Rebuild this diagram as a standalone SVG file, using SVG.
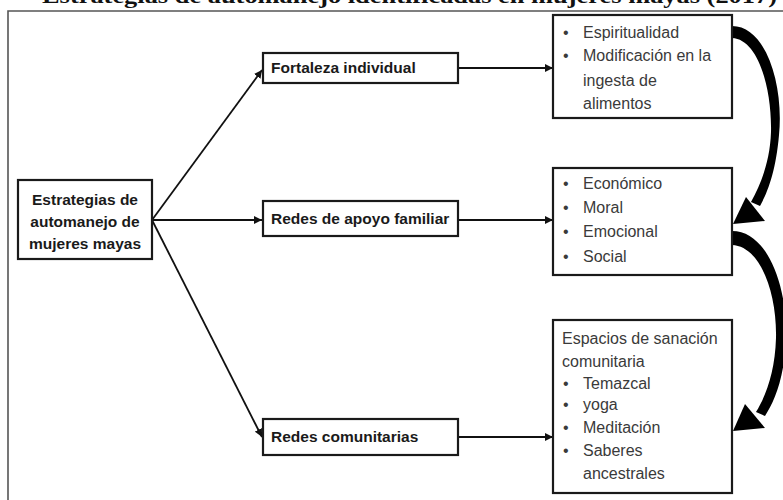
<svg xmlns="http://www.w3.org/2000/svg" width="783" height="500" viewBox="0 0 783 500">
<defs>
<marker id="ah" viewBox="0 0 10 10" refX="10" refY="5" markerWidth="8" markerHeight="8" markerUnits="userSpaceOnUse" orient="auto">
<path d="M0,0 L10,5 L0,10 Z" fill="#111"/>
</marker>
<style>
.box{fill:#fff;stroke:#1a1a1a;stroke-width:2.2}
.lbl{font-family:"Liberation Sans",Arial,sans-serif;font-weight:bold;font-size:15.5px;fill:#1a1a1a}
.itm{font-family:"Liberation Sans",Arial,sans-serif;font-size:16px;fill:#3a3a3a}
.con{stroke:#111;stroke-width:1.8;fill:none;marker-end:url(#ah)}
.big{fill:#000}
</style>
</defs>
<rect x="0" y="0" width="783" height="500" fill="#fff"/>
<text x="42" y="3" textLength="735" lengthAdjust="spacingAndGlyphs" font-family="'Liberation Serif',serif" font-weight="bold" font-size="22" fill="#111">Estrategias de automanejo identificadas en mujeres mayas (2017)</text>
<path d="M8,500 L8,11 L783,11" fill="none" stroke="#555" stroke-width="1.6"/>

<g id="connectors">
<line class="con" x1="152" y1="220" x2="262" y2="70"/>
<line class="con" x1="152" y1="220" x2="262" y2="220"/>
<line class="con" x1="152" y1="220" x2="262" y2="437"/>
<line class="con" x1="458" y1="68" x2="553" y2="68"/>
<line class="con" x1="458" y1="220" x2="553" y2="220"/>
<line class="con" x1="458" y1="437" x2="553" y2="437"/>
<path class="big" d="M732,26 C766,26 784,85 779,135 C776,170 768,192 760,206 L751,202 C762,182 770,160 771,132 C772,88 758,39 732,38 Z"/>
<path class="big" d="M733,224 L746,197 L765,221 Z"/>
<path class="big" d="M732,231 C769,231 788,290 786,340 C784,380 774,402 765,416 L756,412 C767,394 775,370 776,338 C777,292 760,246 732,245 Z"/>
<path class="big" d="M733,431 L745,404 L765,428 Z"/>
</g>

<g id="root">
<rect class="box" x="18" y="180" width="134" height="79"/>
<text class="lbl" x="85" y="205" text-anchor="middle">Estrategias de</text>
<text class="lbl" x="85" y="227" text-anchor="middle">automanejo de</text>
<text class="lbl" x="85" y="249" text-anchor="middle">mujeres mayas</text>
</g>

<g id="fortaleza">
<rect class="box" x="263" y="53" width="195" height="30"/>
<text class="lbl" x="271" y="73">Fortaleza individual</text>
</g>

<g id="apoyo">
<rect class="box" x="263" y="201" width="195" height="35"/>
<text class="lbl" x="271" y="224">Redes de apoyo familiar</text>
</g>

<g id="comunitarias">
<rect class="box" x="263" y="419" width="195" height="36"/>
<text class="lbl" x="271" y="442">Redes comunitarias</text>
</g>

<g id="box-fortaleza">
<rect class="box" x="553" y="15" width="179" height="103"/>
<text class="itm" x="563" y="38">•</text><text class="itm" x="583" y="38">Espiritualidad</text>
<text class="itm" x="563" y="61">•</text><text class="itm" x="583" y="61">Modificación en la</text>
<text class="itm" x="583" y="86">ingesta de</text>
<text class="itm" x="583" y="109">alimentos</text>
</g>

<g id="box-apoyo">
<rect class="box" x="553" y="168" width="179" height="107"/>
<text class="itm" x="563" y="189">•</text><text class="itm" x="583" y="189">Económico</text>
<text class="itm" x="563" y="213">•</text><text class="itm" x="583" y="213">Moral</text>
<text class="itm" x="563" y="237">•</text><text class="itm" x="583" y="237">Emocional</text>
<text class="itm" x="563" y="262">•</text><text class="itm" x="583" y="262">Social</text>
</g>

<g id="box-comunitarias">
<rect class="box" x="553" y="320" width="179" height="173"/>
<text class="itm" x="562" y="344">Espacios de sanación</text>
<text class="itm" x="562" y="367">comunitaria</text>
<text class="itm" x="563" y="389">•</text><text class="itm" x="583" y="389">Temazcal</text>
<text class="itm" x="563" y="410">•</text><text class="itm" x="583" y="410">yoga</text>
<text class="itm" x="563" y="433">•</text><text class="itm" x="583" y="433">Meditación</text>
<text class="itm" x="563" y="456">•</text><text class="itm" x="583" y="456">Saberes</text>
<text class="itm" x="583" y="479">ancestrales</text>
</g>
</svg>
